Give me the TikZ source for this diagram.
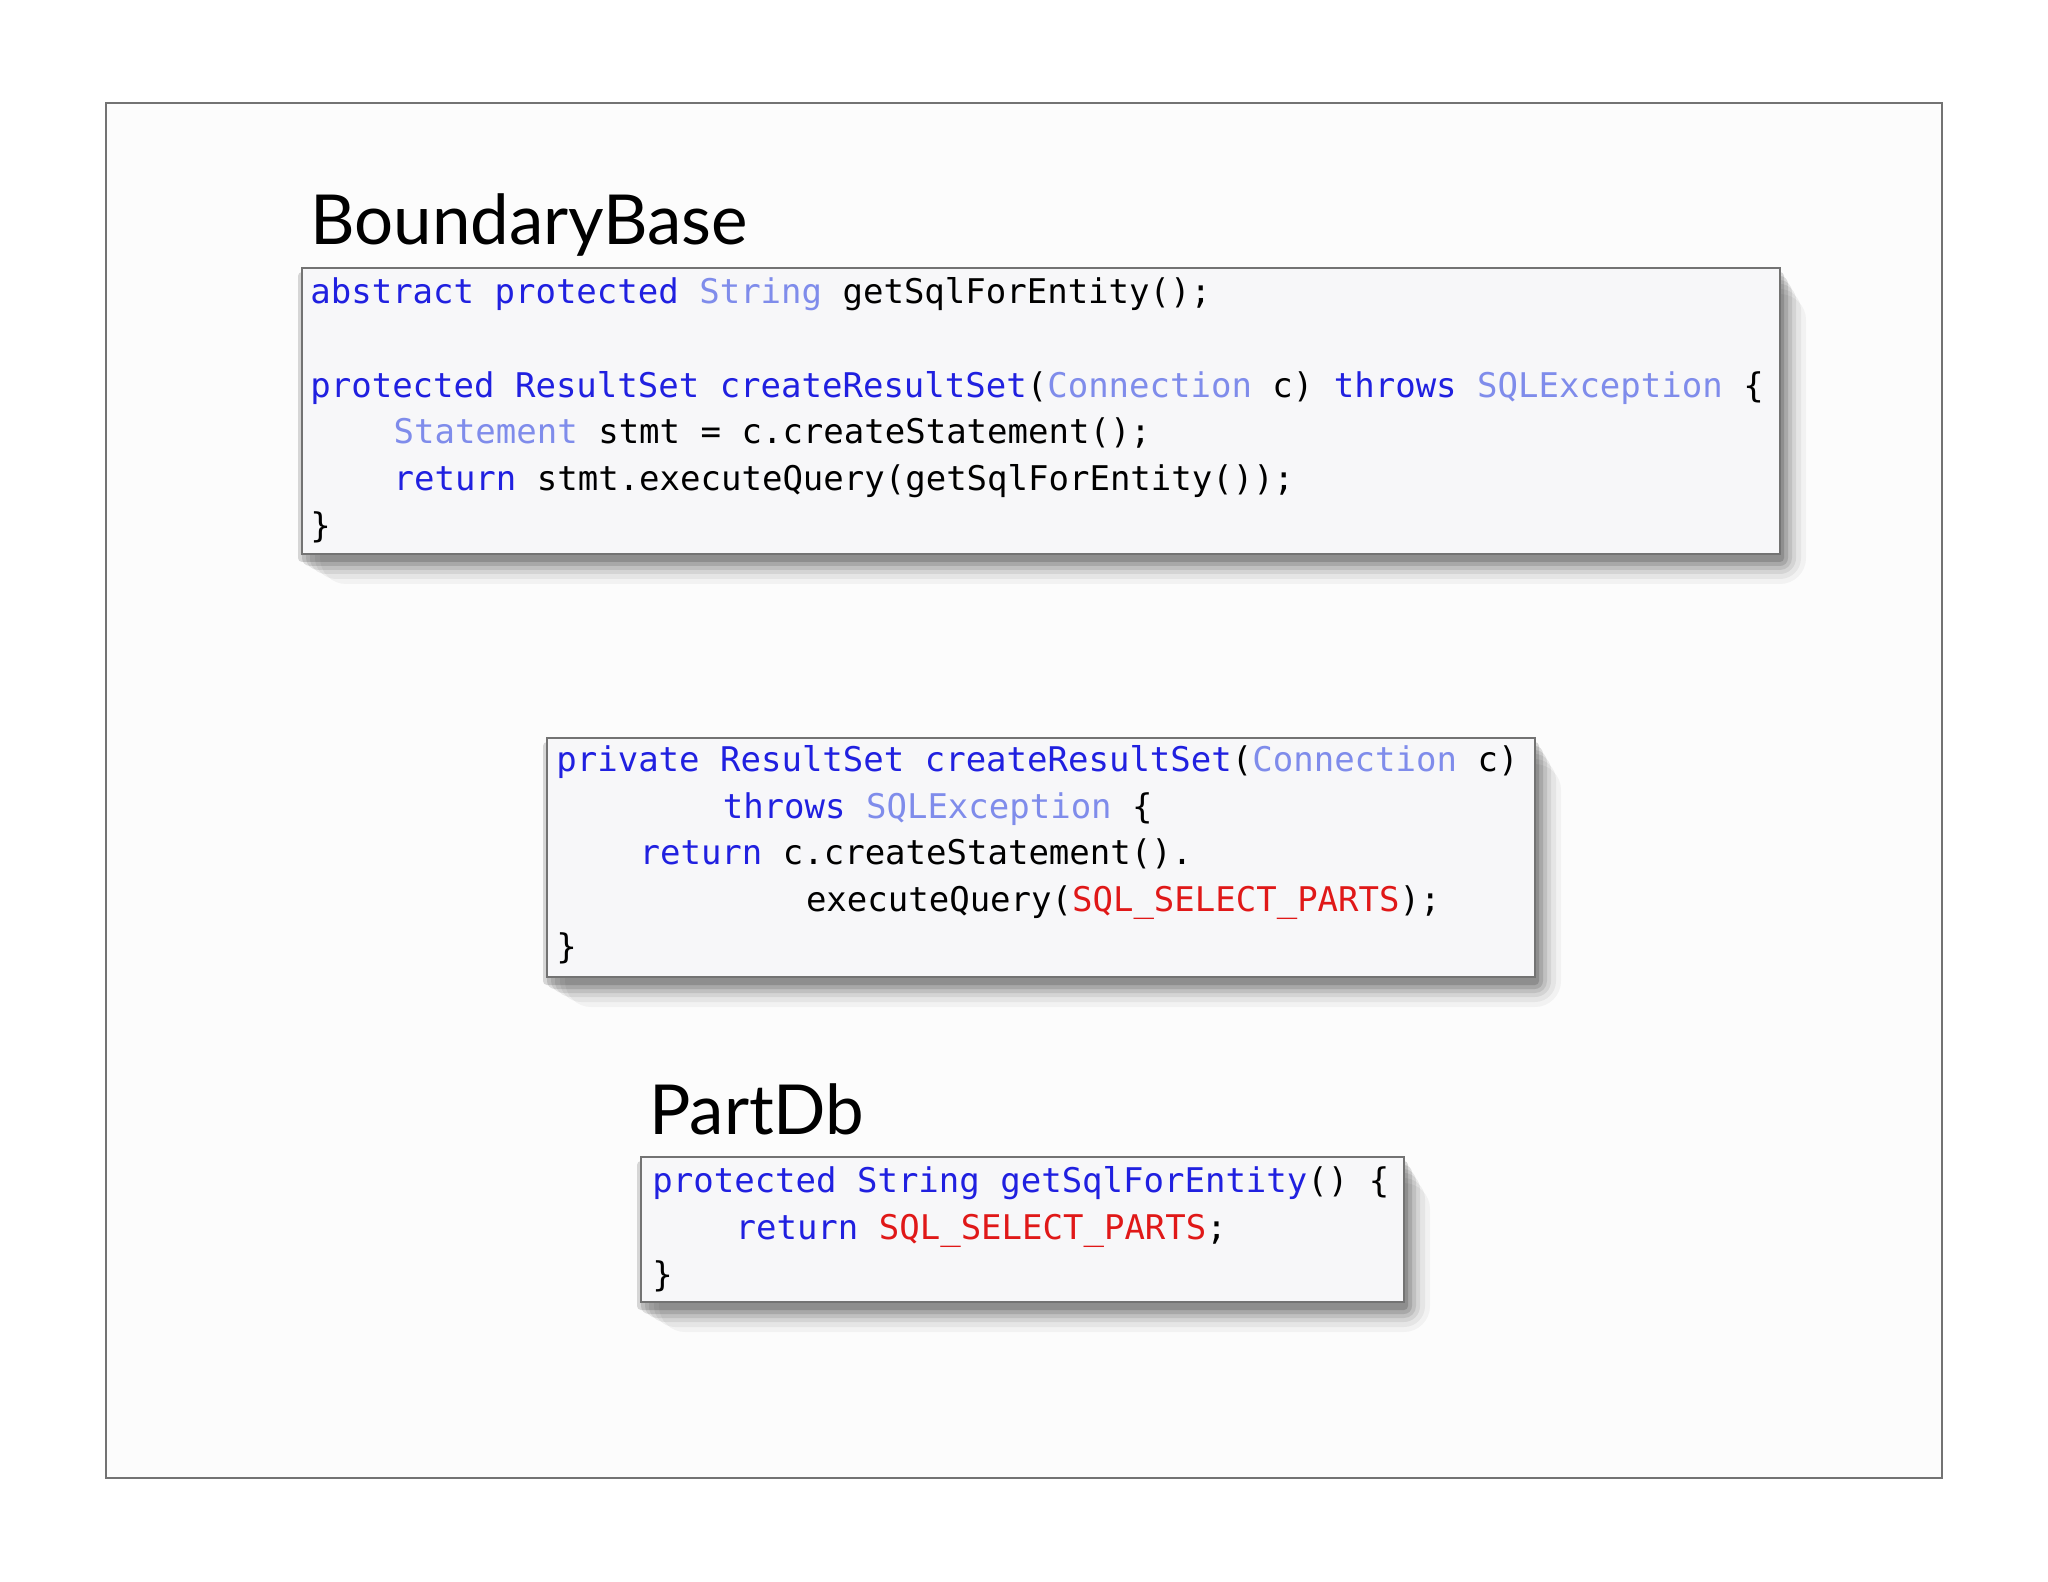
\documentclass[tikz,border=0pt]{standalone}
\usepackage{fontspec}
\setmainfont{Lato}
\setmonofont{DejaVu Sans Mono}
\definecolor{kw}{HTML}{2020E0}
\definecolor{ty}{HTML}{7F8CEB}
\definecolor{rd}{HTML}{E01818}
\definecolor{boxfill}{HTML}{F7F7F9}
\newcommand\K[1]{\textcolor{kw}{#1}}
\newcommand\T[1]{\textcolor{ty}{#1}}
\newcommand\R[1]{\textcolor{rd}{#1}}
\newcommand\ind[1]{\hspace*{#1\dimexpr 10.4pt\relax}}
\tikzset{
  code/.style={anchor=base west,inner sep=0pt,font=\ttfamily\fontsize{17}{20}\selectfont},
  ttl/.style={anchor=base west,inner sep=0pt,font=\fontsize{34.5}{40}\selectfont},
  codebox/.style={draw=black!55,line width=0.8pt,fill=boxfill}
}
\newcommand\shadowbox[4]{%
  \foreach \s/\o in {26/0.04,21/0.05,16/0.07,12/0.09,8/0.12,4/0.15}{
    \fill[black,opacity=\o,rounded corners=\s/2] (#1+\s-8,#2+\s) rectangle (#3+\s,#4+\s+4);}
  \draw[codebox] (#1,#2) rectangle (#3,#4);}
\begin{document}
\begin{tikzpicture}[x=0.5pt,y=-0.5pt]
\useasboundingbox[fill=white] (0,0) rectangle (2048,1582);
\draw[black!55,line width=0.8pt,fill=black!1] (106,103) rectangle (1942,1478);
\node[ttl] (t1) at (310,245) {BoundaryBase};
\shadowbox{302}{268}{1780}{554}
\node[code] (a1) at (310,304) {\K{abstract protected} \T{String} getSqlForEntity();};
\node[code] (a2) at (310,398) {\K{protected ResultSet createResultSet}(\T{Connection} c) \K{throws} \T{SQLException} \{};
\node[code] (a3) at (310,444) {\ind{4}\T{Statement} stmt = c.createStatement();};
\node[code] (a4) at (310,491) {\ind{4}\K{return} stmt.executeQuery(getSqlForEntity());};
\node[code] (a5) at (310,538) {\}};
\shadowbox{547}{738}{1535}{977}
\node[code] (b1) at (556,771) {\K{private ResultSet createResultSet}(\T{Connection} c)};
\node[code] (b2) at (556,818) {\ind{8}\K{throws} \T{SQLException} \{};
\node[code] (b3) at (556,864) {\ind{4}\K{return} c.createStatement().};
\node[code] (b4) at (556,911) {\ind{12}executeQuery(\R{SQL\_SELECT\_PARTS});};
\node[code] (b5) at (556,958) {\}};
\node[ttl] (t2) at (649,1134) {PartDb};
\shadowbox{641}{1157}{1404}{1302}
\node[code] (c1) at (652,1192) {\K{protected String getSqlForEntity}() \{};
\node[code] (c2) at (652,1239) {\ind{4}\K{return} \R{SQL\_SELECT\_PARTS};};
\node[code] (c3) at (652,1286) {\}};
\end{tikzpicture}
\end{document}
